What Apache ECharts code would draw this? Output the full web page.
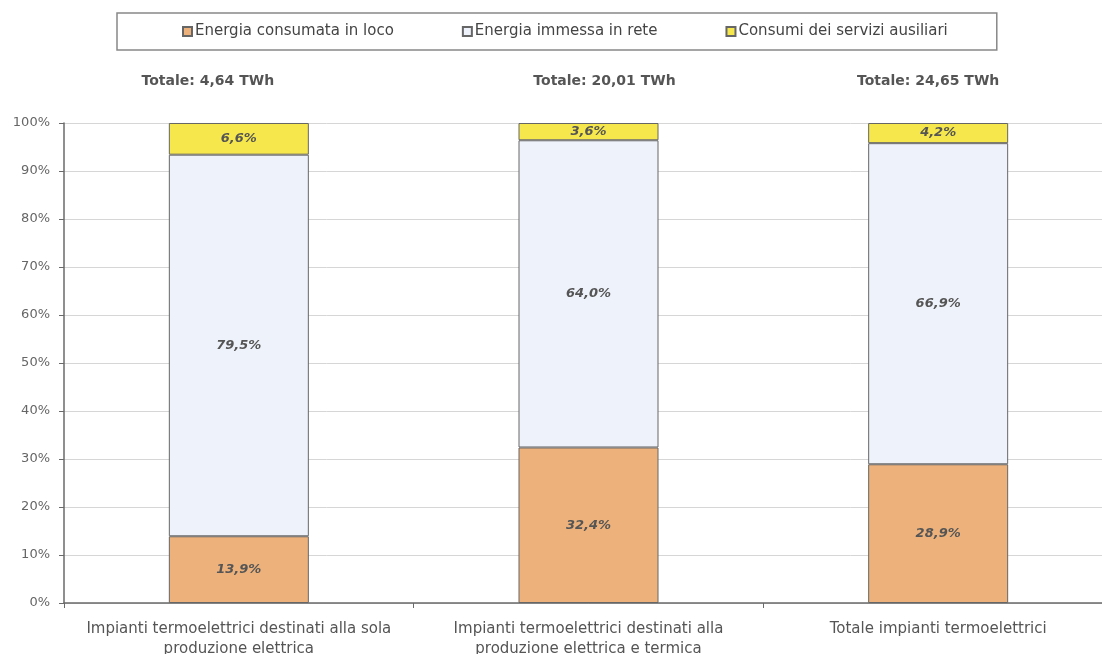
<!DOCTYPE html>
<html><head><meta charset="utf-8">
<script src="https://cdn.jsdelivr.net/npm/echarts@6/dist/echarts.min.js"></script>
<style>html,body{margin:0;padding:0;background:#fff;overflow:hidden}#c{width:1113px;height:654px}</style>
</head><body><div id="c"></div>
<script>
var categories = ['Impianti termoelettrici destinati alla sola\nproduzione elettrica', 'Impianti termoelettrici destinati alla\nproduzione elettrica e termica', 'Totale impianti termoelettrici'];
var totals = ['Totale: 4,64 TWh', 'Totale: 20,01 TWh', 'Totale: 24,65 TWh'];
var seriesNames = ['Energia consumata in loco', 'Energia immessa in rete', 'Consumi dei servizi ausiliari'];
var consumata = [13.9, 32.4, 28.9];
var immessa = [79.5, 64.0, 66.9];
var ausiliari = [6.6, 3.6, 4.2];
var yTicks = [0, 10, 20, 30, 40, 50, 60, 70, 80, 90, 100];

var colors = ['#EDB27C', '#EEF2FA', '#F6E84C'];
var dataSets = [consumata, immessa, ausiliari];
var FONT = 'DejaVu Sans, Verdana, sans-serif';
// label nudges (style only): padding [top,right,bottom,left] for each total label
var totalPads = [[0, 62, 0, 0], [0, 0, 0, 32], [0, 20, 0, 0]];

function fmt(v){ return v.toFixed(1).replace('.', ',') + '%'; }

var series = seriesNames.map(function(n, i){
  return {
    name: n, type: 'bar', stack: 'tot', barWidth: 140,
    data: dataSets[i],
    itemStyle: { color: colors[i], borderColor: '#666', borderWidth: 1 },
    label: { show: true, position: 'inside', formatter: function(p){ return fmt(p.value); },
      fontFamily: FONT, fontSize: 13, fontWeight: 'bold', fontStyle: 'italic', color: '#555' }
  };
});

var richTot = {};
totalPads.forEach(function(p, i){
  richTot['t' + i] = { fontFamily: FONT, fontSize: 14, fontWeight: 'bold', color: '#555', padding: p };
});

var chart = echarts.init(document.getElementById('c'));
chart.setOption({
  backgroundColor: '#fff',
  animation: false,
  legend: {
    data: seriesNames,
    left: 117, top: 13,
    padding: [11, 49, 11, 65],
    borderColor: '#888', borderWidth: 1.5,
    itemWidth: 9, itemHeight: 9, itemGap: 68,
    icon: 'rect',
    textStyle: { fontFamily: FONT, fontSize: 15, color: '#444', padding: [0,0,0,-2] }
  },
  grid: { left: 64, top: 123, right: 0, bottom: 51, containLabel: false, outerBoundsMode: 'none' },
  xAxis: [{
    type: 'category', data: categories, position: 'bottom',
    axisLine: { lineStyle: { color: '#6a6a6a', width: 1.5 } },
    axisTick: { show: true, alignWithLabel: false, length: 5, lineStyle: { color: '#6a6a6a' } },
    axisLabel: { interval: 0, fontFamily: FONT, fontSize: 15, color: '#555', lineHeight: 20, margin: 16 }
  }, {
    type: 'category', data: totals, position: 'top',
    axisLine: { show: false }, axisTick: { show: false },
    axisLabel: { interval: 0, margin: 35,
      formatter: function(v, idx){ return '{t' + idx + '|' + v + '}'; },
      rich: richTot }
  }],
  yAxis: {
    type: 'value', min: 0, max: 100, interval: 10,
    axisLine: { show: true, lineStyle: { color: '#6a6a6a', width: 1.5 } },
    axisTick: { show: true, length: 5, lineStyle: { color: '#6a6a6a' } },
    splitLine: { lineStyle: { color: '#d6d6d6' } },
    axisLabel: { formatter: function(v){ return yTicks.indexOf(v) >= 0 ? v + '%' : ''; },
      fontFamily: FONT, fontSize: 13, color: '#666', margin: 14 }
  },
  series: series
});
</script></body></html>
